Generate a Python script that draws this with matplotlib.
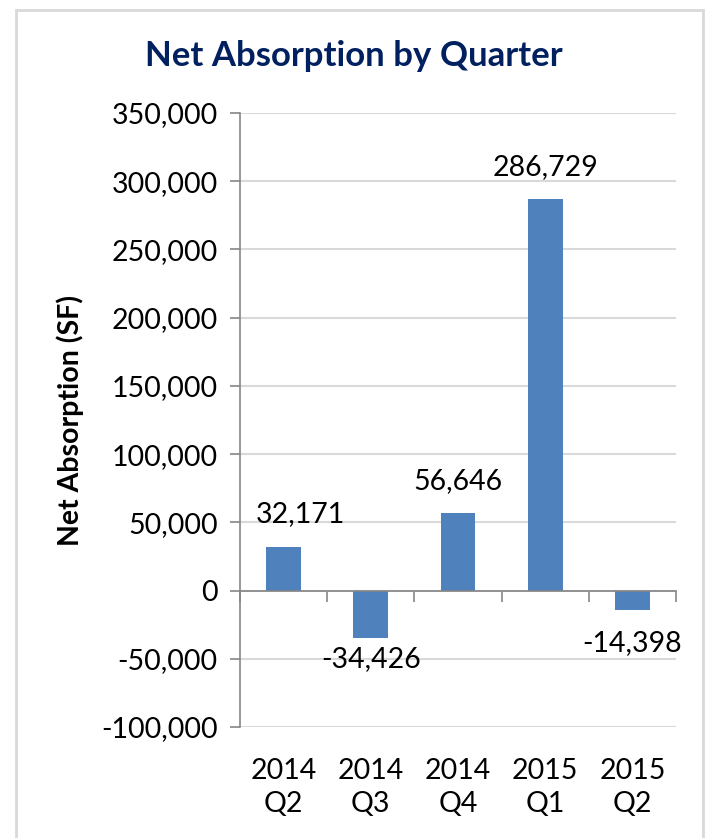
import matplotlib.pyplot as plt
from matplotlib.patches import Rectangle
from matplotlib.ticker import FuncFormatter, FixedLocator

plt.rcParams['font.family'] = ['Lato', 'DejaVu Sans']

quarters = ["2014\nQ2", "2014\nQ3", "2014\nQ4", "2015\nQ1", "2015\nQ2"]
absorption = [32171, -34426, 56646, 286729, -14398]
y_ticks = [-100000, -50000, 0, 50000, 100000, 150000, 200000, 250000, 300000, 350000]

bar_color = "#4F81BD"
title_color = "#002060"
axis_gray = "#868686"
grid_gray = "#D9D9D9"

fig = plt.figure(figsize=(7.07, 8.38), dpi=100)
fig.patches.append(Rectangle((15.5 / 707, -0.05), (703 - 15.5) / 707, 1.05 - 10 / 838,
                             transform=fig.transFigure, fill=False,
                             edgecolor=grid_gray, linewidth=2))

ax = fig.add_axes([240 / 707, 1 - 727 / 838, (676 - 240) / 707, (727 - 113) / 838])

x = list(range(len(quarters)))
ax.bar(x, absorption, width=0.4, color=bar_color, zorder=3)

ax.set_xlim(-0.5, len(quarters) - 0.5)
ax.set_ylim(y_ticks[0], y_ticks[-1])
ax.set_yticks(y_ticks)
ax.yaxis.set_major_formatter(FuncFormatter(lambda v, p: f"{int(v):,}"))
ax.tick_params(axis='y', direction='out', length=7, width=1.2, color=axis_gray,
               labelsize=20.5, pad=9)
ax.grid(axis='y', color=grid_gray, linewidth=1.5, zorder=0)

for side in ("top", "right"):
    ax.spines[side].set_visible(False)
ax.spines["left"].set_color(axis_gray)
ax.spines["left"].set_linewidth(1.2)

# category axis runs along zero, with tick marks between categories
ax.spines["bottom"].set_position(("data", 0))
ax.spines["bottom"].set_color(axis_gray)
ax.spines["bottom"].set_linewidth(1.2)
ax.spines["bottom"].set_zorder(4)
ax.xaxis.set_major_locator(FixedLocator([i + 0.5 for i in range(-1, len(quarters))]))
ax.tick_params(axis='x', direction='out', length=8, width=1.2, color=axis_gray,
               labelbottom=False)

# category names sit below the plot area
sec = ax.secondary_xaxis(0)
sec.set_xticks(x)
sec.set_xticklabels(quarters)
sec.tick_params(axis='x', length=0, labelsize=20.5, pad=22)
sec.spines["bottom"].set_visible(False)
for lbl in sec.get_xticklabels():
    lbl.set_linespacing(1.35)

# value labels; the first is nudged right to stay clear of the value axis,
# the last is pushed down a little below its short bar
for xi, v in zip(x, absorption):
    dx = 12 if xi == 0 else 0
    if v >= 0:
        ax.annotate(f"{v:,}", (xi, v), xytext=(dx, 14), textcoords="offset points",
                    ha="center", va="bottom", fontsize=20.5)
    else:
        dy = -14 if xi == len(x) - 1 else -6
        ax.annotate(f"{v:,}", (xi, v), xytext=(dx, dy), textcoords="offset points",
                    ha="center", va="top", fontsize=20.5)

ax.set_ylabel("Net Absorption (SF)", fontsize=20.5, fontweight="bold", labelpad=12)
fig.text(0.5, 1 - 56 / 838, "Net Absorption by Quarter", ha="center", va="center",
         fontsize=25, fontweight="bold", color=title_color)

fig.savefig("out.png", dpi=100)
